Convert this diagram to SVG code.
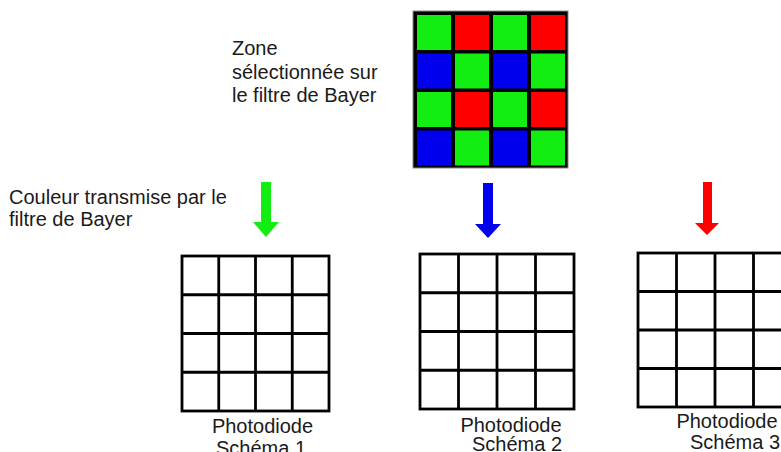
<svg xmlns="http://www.w3.org/2000/svg" width="781" height="452" viewBox="0 0 781 452">
<style>
  text { font-family: "Liberation Sans", Arial, sans-serif; font-size: 20px; fill: #1a1a1a; }
  .grid { fill: #ffffff; stroke: #000000; stroke-width: 2.8; }
  .gline { stroke: #000000; stroke-width: 2.8; fill: none; }
  .g { fill: #12ee12; }
  .r { fill: #ff0000; }
  .b { fill: #0000ee; }
</style>
<rect width="781" height="452" fill="#ffffff"/>

<g id="bayer-filter">
  <rect x="413" y="11" width="155" height="157" fill="#000000" stroke="#8a8a8a" stroke-width="1"/>
  <rect class="g" x="417" y="15" width="34" height="35"/>
  <rect class="r" x="455" y="15" width="34" height="35"/>
  <rect class="g" x="493" y="15" width="34" height="35"/>
  <rect class="r" x="531" y="15" width="34" height="35"/>
  <rect class="b" x="417" y="53.5" width="34" height="35"/>
  <rect class="g" x="455" y="53.5" width="34" height="35"/>
  <rect class="b" x="493" y="53.5" width="34" height="35"/>
  <rect class="g" x="531" y="53.5" width="34" height="35"/>
  <rect class="g" x="417" y="92" width="34" height="35"/>
  <rect class="r" x="455" y="92" width="34" height="35"/>
  <rect class="g" x="493" y="92" width="34" height="35"/>
  <rect class="r" x="531" y="92" width="34" height="35"/>
  <rect class="b" x="417" y="130.5" width="34" height="35"/>
  <rect class="g" x="455" y="130.5" width="34" height="35"/>
  <rect class="b" x="493" y="130.5" width="34" height="35"/>
  <rect class="g" x="531" y="130.5" width="34" height="35"/>
</g>

<g id="label-zone">
  <text x="232" y="55">Zone</text>
  <text x="232" y="79">sélectionnée sur</text>
  <text x="232" y="102">le filtre de Bayer</text>
</g>

<g id="label-couleur">
  <text x="9" y="204">Couleur transmise par le</text>
  <text x="9" y="226">filtre de Bayer</text>
</g>

<g id="connectors">
  <polygon fill="#12ee12" points="261,182 271,182 271,222 279,222 266,237 253,222 261,222"/>
  <polygon fill="#0000ee" points="483,183 493,183 493,224 501,224 488,238 475,224 483,224"/>
  <polygon fill="#ff0000" points="703,182 712,182 712,223 719,223 707,235 695,223 703,223"/>
</g>

<g id="schema-1">
  <rect class="grid" x="182" y="256" width="147" height="155"/>
  <path class="gline" d="M218.75,256V411M255.5,256V411M292.25,256V411M182,294.75H329M182,333.5H329M182,372.25H329"/>
  <text x="262.5" y="433" text-anchor="middle">Photodiode</text>
  <text x="261" y="455" text-anchor="middle">Schéma 1</text>
</g>

<g id="schema-2">
  <rect class="grid" x="420" y="254" width="154" height="155"/>
  <path class="gline" d="M458.5,254V409M497,254V409M535.5,254V409M420,292.75H574M420,331.5H574M420,370.25H574"/>
  <text x="511" y="432" text-anchor="middle">Photodiode</text>
  <text x="517" y="451" text-anchor="middle">Schéma 2</text>
</g>

<g id="schema-3">
  <rect class="grid" x="638" y="253" width="154" height="154"/>
  <path class="gline" d="M676.5,253V407M715,253V407M753.5,253V407M638,291.5H792M638,330H792M638,368.5H792"/>
  <text x="727" y="428" text-anchor="middle">Photodiode</text>
  <text x="735" y="449" text-anchor="middle">Schéma 3</text>
</g>
</svg>
